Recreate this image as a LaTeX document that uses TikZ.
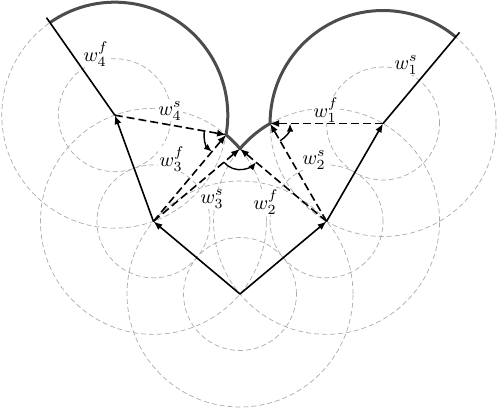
\documentclass[tikz,border=0pt]{standalone}
\usetikzlibrary{arrows.meta}
\begin{document}
\begin{tikzpicture}[x=0.5pt,y=0.5pt,
  guide/.style={draw=black!33, line width=0.35pt, dash pattern=on 2.5pt off 1.5pt},
  bound/.style={draw=black!70, line width=1.5pt, line join=round},
  link/.style={draw=black, line width=0.8pt},
  tipped/.style={-{Latex[length=4.5pt,width=3.5pt]}},
  reach/.style={draw=black, line width=0.8pt, dash pattern=on 4pt off 2pt},
  angarc/.style={draw=black, line width=0.7pt, -{Latex[length=4pt,width=3.2pt]}},
  lab/.style={fill=white, inner sep=0.5pt}
]
\useasboundingbox (0,0) rectangle (498,409);
\def\R{113}
\def\r{56.5}
% joints
\coordinate (O) at (240,115);
\coordinate (P3) at ([shift={(140:\R)}]O);
\coordinate (P2) at ([shift={(40:\R)}]O);
\coordinate (P4) at ([shift={(110:\R)}]P3);
\coordinate (P1) at ([shift={(60:\R)}]P2);
\coordinate (E4) at ([shift={(125:119)}]P4);
\coordinate (E1) at ([shift={(50:119)}]P1);
\coordinate (A) at ([shift={(50:\R)}]P3);
\coordinate (C) at ([shift={(40:\R)}]P3);
\coordinate (B) at ([shift={(120:\R)}]P2);
\coordinate (S4) at ([shift={(125:\R)}]P4);
% guide circles
\foreach \p in {O,P3,P2,P4,P1}{
  \draw[guide] (\p) circle[radius=\R];
  \draw[guide] (\p) circle[radius=\r];
}
% boundary
\draw[bound] (S4) arc[start angle=125, end angle=-10, radius=\R]
  arc[start angle=50, end angle=40, radius=\R]
  arc[start angle=140, end angle=120, radius=\R]
  arc[start angle=180, end angle=50, radius=\R];
% links
\draw[link,tipped] (O) -- (P3);
\draw[link,tipped] (O) -- (P2);
\draw[link,tipped] (P3) -- (P4);
\draw[link,tipped] (P2) -- (P1);
\draw[link] (P4) -- (E4);
\draw[link] (P1) -- (E1);
% reach lines
\draw[reach,tipped] (P4) -- (A);
\draw[reach,tipped] (P3) -- (A);
\draw[reach,tipped] (P3) -- (C);
\draw[reach,tipped] (P2) -- (C);
\draw[reach,tipped] (P2) -- (B);
\draw[reach,tipped] (P1) -- (B);
% angle arcs
\draw[angarc] ([shift={(170:22)}]A) arc[start angle=170, end angle=230, radius=22];
\draw[angarc] ([shift={(220:21)}]C) arc[start angle=220, end angle=320, radius=21];
\draw[angarc] ([shift={(300:20)}]B) arc[start angle=300, end angle=360, radius=20];
% labels
\node[lab] (l4f) at (96,355) {$w_4^f$};
\node[lab] (l4s) at (170,298) {$w_4^s$};
\node[lab] (l3f) at (172,250) {$w_3^f$};
\node[lab] (l3s) at (212,210) {$w_3^s$};
\node[lab] (l2f) at (266,207) {$w_2^f$};
\node[lab] (l2s) at (314,249) {$w_2^s$};
\node[lab] (l1f) at (326,299) {$w_1^f$};
\node[lab] (l1s) at (406,344) {$w_1^s$};
\end{tikzpicture}
\end{document}
